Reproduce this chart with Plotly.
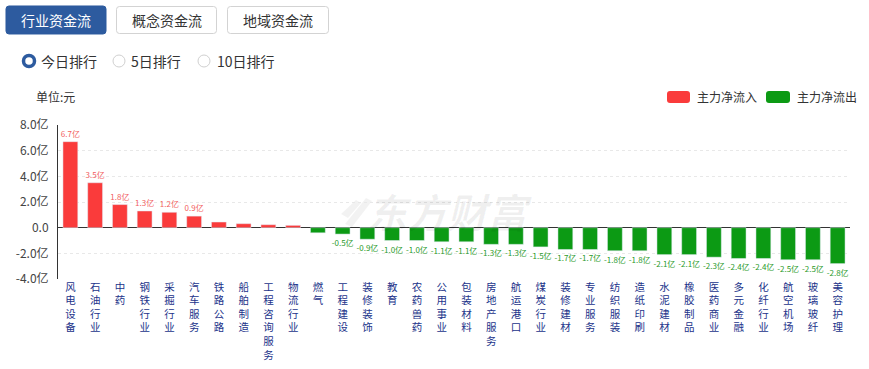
import plotly.graph_objects as go

categories = ["风电设备", "石油行业", "中药", "钢铁行业", "采掘行业", "汽车服务", "铁路公路", "船舶制造",
              "工程咨询服务", "物流行业", "燃气", "工程建设", "装修装饰", "教育", "农药兽药", "公用事业",
              "包装材料", "房地产服务", "航运港口", "煤炭行业", "装修建材", "专业服务", "纺织服装", "造纸印刷",
              "水泥建材", "橡胶制品", "医药商业", "多元金融", "化纤行业", "航空机场", "玻璃玻纤", "美容护理"]
values = [6.7, 3.5, 1.8, 1.3, 1.2, 0.9, 0.44, 0.31, 0.23, 0.18, -0.4, -0.5, -0.9, -1.0, -1.0, -1.1,
          -1.1, -1.3, -1.3, -1.5, -1.7, -1.7, -1.8, -1.8, -2.1, -2.1, -2.3, -2.4, -2.4, -2.5, -2.5, -2.8]
labels = ["6.7亿", "3.5亿", "1.8亿", "1.3亿", "1.2亿", "0.9亿", "", "", "", "", "", "-0.5亿", "-0.9亿",
          "-1.0亿", "-1.0亿", "-1.1亿", "-1.1亿", "-1.3亿", "-1.3亿", "-1.5亿", "-1.7亿", "-1.7亿",
          "-1.8亿", "-1.8亿", "-2.1亿", "-2.1亿", "-2.3亿", "-2.4亿", "-2.4亿", "-2.5亿", "-2.5亿", "-2.8亿"]
y_ticks = [8, 6, 4, 2, 0, -2, -4]
y_tick_labels = ["8.0亿", "6.0亿", "4.0亿", "2.0亿", "0.0", "-2.0亿", "-4.0亿"]
legend_names = ["主力净流入", "主力净流出"]
buttons = ["行业资金流", "概念资金流", "地域资金流"]
radios = ["今日排行", "5日排行", "10日排行"]

RED = "#fa3b3b"
GREEN = "#0c9a14"
BLUE = "#2d5b9f"
FONT = "Noto Sans CJK SC"

W, H = 869, 369
L, R, T, B = 58, 19, 125, 90
PW, PH = W - L - R, H - T - B


def px(x):
    return (x - L) / PW


def py(y):
    return (H - B - y) / PH


def rrect(x0, y0, x1, y1, r):
    # rounded rectangle path in paper coords from pixel coords
    X = lambda v: f"{px(v):.5f}"
    Y = lambda v: f"{py(v):.5f}"
    return (f"M{X(x0 + r)},{Y(y0)} L{X(x1 - r)},{Y(y0)} Q{X(x1)},{Y(y0)} {X(x1)},{Y(y0 + r)} "
            f"L{X(x1)},{Y(y1 - r)} Q{X(x1)},{Y(y1)} {X(x1 - r)},{Y(y1)} L{X(x0 + r)},{Y(y1)} "
            f"Q{X(x0)},{Y(y1)} {X(x0)},{Y(y1 - r)} L{X(x0)},{Y(y0 + r)} Q{X(x0)},{Y(y0)} {X(x0 + r)},{Y(y0)} Z")


def poly(points):
    return "M" + " L".join(f"{px(a):.5f},{py(b):.5f}" for a, b in points) + " Z"


pos_vals = [v if v >= 0 else None for v in values]
neg_vals = [v if v < 0 else None for v in values]
pos_text = [t if v >= 0 else "" for v, t in zip(values, labels)]
neg_text = [t if v < 0 else "" for v, t in zip(values, labels)]

tick_text = ["<br>".join(list(c)) for c in categories]

fig = go.Figure()
fig.add_trace(go.Bar(x=categories, y=pos_vals, marker_color=RED, name=legend_names[0],
                     text=pos_text, textposition="outside", constraintext="none", cliponaxis=False,
                     textfont=dict(size=8, color="#f26060", family=FONT), width=0.6, showlegend=False))
fig.add_trace(go.Bar(x=categories, y=neg_vals, marker_color=GREEN, name=legend_names[1],
                     text=neg_text, textposition="outside", constraintext="none", cliponaxis=False,
                     textfont=dict(size=8, color="#2a9a2a", family=FONT), width=0.6, showlegend=False))

shapes = []
annotations = []

# watermark logo (faint swoosh) and text
shapes.append(dict(type="path", xref="paper", yref="paper", layer="below",
                   path=poly([(341, 214), (356, 200), (361, 203), (348, 218)]),
                   fillcolor="rgba(0,0,0,0.05)", line=dict(width=0)))
shapes.append(dict(type="path", xref="paper", yref="paper", layer="below",
                   path=poly([(345, 224), (366, 198), (372, 201), (352, 227)]),
                   fillcolor="rgba(0,0,0,0.05)", line=dict(width=0)))
annotations.append(dict(x=px(450), y=py(211), xref="paper", yref="paper",
                        text="<b><i>东方财富</i></b>", showarrow=False,
                        font=dict(size=40, color="rgba(0,0,0,0.06)", family=FONT),
                        xanchor="center", yanchor="middle"))

# buttons
btn_x = [(6, 106), (116, 217), (227, 329)]
for i, (name, (x0, x1)) in enumerate(zip(buttons, btn_x)):
    if i == 0:
        shapes.append(dict(type="path", xref="paper", yref="paper", path=rrect(x0, 6, x1, 34, 3),
                           fillcolor=BLUE, line=dict(color=BLUE, width=1), layer="above"))
        col = "white"
    else:
        shapes.append(dict(type="path", xref="paper", yref="paper", path=rrect(x0 + 0.5, 6.5, x1 - 0.5, 33.5, 3),
                           fillcolor="white", line=dict(color="#d3d3d3", width=1), layer="above"))
        col = "#333333"
    annotations.append(dict(x=px((x0 + x1) / 2), y=py(20), xref="paper", yref="paper", text=name,
                            showarrow=False, font=dict(size=14, color=col, family=FONT),
                            xanchor="center", yanchor="middle"))

# radio buttons
radio_cx = [29, 119, 204]
radio_tx = [40, 130, 216]
for i, (name, cx, tx) in enumerate(zip(radios, radio_cx, radio_tx)):
    if i == 0:
        shapes.append(dict(type="circle", xref="paper", yref="paper",
                           x0=px(cx - 5.5), x1=px(cx + 5.5), y0=py(61 + 5.5), y1=py(61 - 5.5),
                           fillcolor="white", line=dict(color=BLUE, width=3.5)))
    else:
        shapes.append(dict(type="circle", xref="paper", yref="paper",
                           x0=px(cx - 6), x1=px(cx + 6), y0=py(61 + 6), y1=py(61 - 6),
                           fillcolor="white", line=dict(color="#d0d0d0", width=1)))
    annotations.append(dict(x=px(tx - 1), y=py(61), xref="paper", yref="paper", text=name,
                            showarrow=False, font=dict(size=14, color="#333333", family=FONT),
                            xanchor="left", yanchor="middle"))

# unit label
annotations.append(dict(x=px(34), y=py(97), xref="paper", yref="paper", text="单位:元", showarrow=False,
                        font=dict(size=12, color="#333333", family=FONT), xanchor="left", yanchor="middle"))

# legend
leg = [(667, 690, 696, RED, legend_names[0]), (766, 790, 796, GREEN, legend_names[1])]
for x0, x1, tx, col, name in leg:
    shapes.append(dict(type="path", xref="paper", yref="paper", path=rrect(x0, 91, x1, 103, 3),
                       fillcolor=col, line=dict(color=col, width=0)))
    annotations.append(dict(x=px(tx - 1), y=py(97), xref="paper", yref="paper", text=name, showarrow=False,
                            font=dict(size=12, color="#333333", family=FONT), xanchor="left", yanchor="middle"))

fig.update_layout(
    width=W, height=H,
    margin=dict(l=L, r=R, t=T, b=B, pad=0, autoexpand=False),
    paper_bgcolor="white", plot_bgcolor="white",
    barmode="overlay",
    font=dict(family=FONT),
    shapes=shapes, annotations=annotations,
    showlegend=False,
    xaxis=dict(
        type="category", categoryorder="array", categoryarray=categories,
        tickmode="array", tickvals=categories, ticktext=tick_text, tickangle=0,
        tickfont=dict(size=10.5, color="#22338a", family=FONT),
        showgrid=False, showline=False, zeroline=False, ticks="", automargin=False,
        range=[-0.5, len(categories) - 0.5],
    ),
    yaxis=dict(
        range=[-4, 8], tickmode="array", tickvals=y_ticks, ticktext=y_tick_labels,
        tickfont=dict(size=12, color="#444444", family=FONT),
        showgrid=True, gridcolor="#e8e8e8", griddash="dot", gridwidth=1,
        zeroline=True, zerolinecolor="#333333", zerolinewidth=1, automargin=False,
        showline=True, linecolor="#333333", linewidth=1, ticks="", ticklabelstandoff=6,
    ),
)

fig.write_html("out.html", config={"displayModeBar": False},
               post_script="document.body.style.margin='0';document.body.style.padding='0';")
